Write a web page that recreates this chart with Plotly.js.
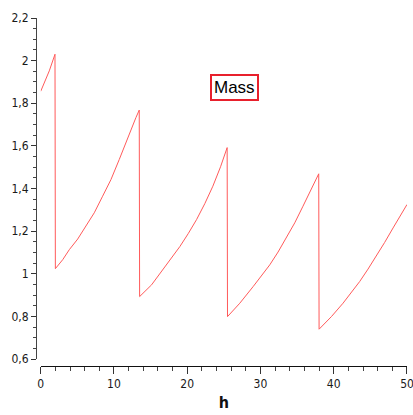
<!DOCTYPE html>
<html>
<head>
<meta charset="utf-8">
<script src="https://cdn.plot.ly/plotly-3.0.1.min.js"></script>
<style>
  html, body { margin: 0; padding: 0; background: #fff; }
  #chart { width: 413px; height: 415px; }
</style>
</head>
<body>
<div id="chart"></div>
<script>
// Time in hours and the mass readings (each vertical jump is a drop between doses)
var hours = [0, 1.17, 1.95, 2.0,
             3.0, 3.9, 5.05, 6.18, 7.31, 8.45, 9.59, 10.72, 11.86, 13.0, 13.45, 13.5,
             15.13, 16.7, 17.86, 19.0, 20.13, 21.27, 22.4, 23.5, 24.55, 25.45, 25.5,
             27.18, 29.0, 30.14, 31.27, 32.4, 33.5, 34.68, 35.8, 36.96, 37.95, 38.0,
             39.68, 41.27, 42.41, 43.55, 44.68, 45.8, 46.95, 48.1, 49.1, 50];
var mass = [1.856, 1.952, 2.03, 1.024,
            1.066, 1.113, 1.163, 1.223, 1.286, 1.364, 1.442, 1.536, 1.639, 1.733, 1.768, 0.893,
            0.948, 1.019, 1.071, 1.128, 1.188, 1.254, 1.329, 1.411, 1.502, 1.592, 0.799,
            0.862, 0.940, 0.991, 1.042, 1.102, 1.168, 1.239, 1.317, 1.395, 1.469, 0.740,
            0.799, 0.862, 0.912, 0.964, 1.022, 1.081, 1.147, 1.215, 1.270, 1.325];

var seriesName = "Mass";
var xTitle = "h";

var tickFont = { family: "DejaVu Sans Condensed, DejaVu Sans, sans-serif", size: 12, color: "#1a1a1a" };

var trace = {
  x: hours,
  y: mass,
  type: "scatter",
  mode: "lines",
  name: seriesName,
  line: { color: "#ff5a5a", width: 1 },
  showlegend: false
};

var layout = {
  width: 413,
  height: 415,
  margin: { l: 36, r: 6, t: 18, b: 49 },
  paper_bgcolor: "#fff",
  plot_bgcolor: "#fff",
  separators: ", ",
  showlegend: false,
  xaxis: {
    domain: [0.0127, 1],
    anchor: "free",
    position: 0,
    range: [0, 50.001],
    tick0: 0,
    dtick: 10,
    ticks: "outside",
    ticklen: 7,
    tickwidth: 1,
    tickcolor: "#333",
    ticklabeloverflow: "allow",
    minor: { dtick: 2, ticks: "outside", ticklen: 4, tickcolor: "#444", tickwidth: 1 },
    showline: true,
    linecolor: "#111",
    linewidth: 1,
    showgrid: false,
    zeroline: false,
    tickfont: tickFont,
    title: { text: "<b>" + xTitle + "</b>", font: { family: "DejaVu Sans Condensed, DejaVu Sans, sans-serif", size: 16, color: "#111" }, standoff: 6 }
  },
  yaxis: {
    domain: [0.02, 1],
    anchor: "free",
    position: 0,
    range: [0.6, 2.2],
    tick0: 0.6,
    dtick: 0.2,
    ticks: "outside",
    ticklen: 5,
    tickwidth: 1,
    tickcolor: "#333",
    minor: { dtick: 0.05, ticks: "outside", ticklen: 3, tickcolor: "#444", tickwidth: 1 },
    showline: true,
    linecolor: "#444",
    linewidth: 1,
    showgrid: false,
    zeroline: false,
    tickfont: tickFont
  },
  annotations: [{
    xref: "paper", yref: "paper",
    x: 0.535, y: 0.8,
    xanchor: "center", yanchor: "middle",
    text: seriesName,
    showarrow: false,
    font: { family: "Liberation Sans, Arial, sans-serif", size: 17, color: "#000" },
    bordercolor: "#e8202c",
    borderwidth: 2,
    borderpad: 2,
    bgcolor: "#fff"
  }]
};

Plotly.newPlot("chart", [trace], layout, { displayModeBar: false, staticPlot: true });
</script>
</body>
</html>
